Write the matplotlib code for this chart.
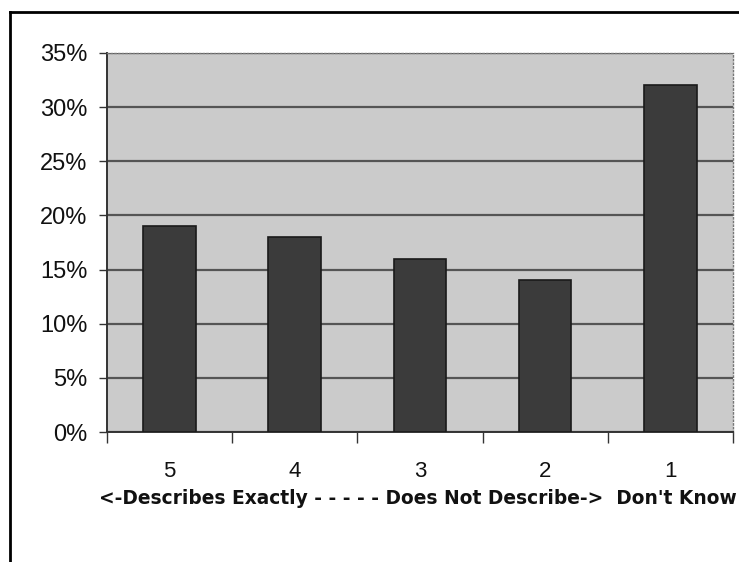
import matplotlib
matplotlib.use("Agg")
import matplotlib.pyplot as plt
from matplotlib.lines import Line2D
import numpy as np

categories = ["5", "4", "3", "2", "1"]
values = [19, 18, 16, 14, 32]
yticks = [0, 5, 10, 15, 20, 25, 30, 35]
ytick_labels = ["0%", "5%", "10%", "15%", "20%", "25%", "30%", "35%"]
caption = "<-Describes Exactly - - - - - Does Not Describe->  Don't Know"

fig = plt.figure(figsize=(7.39, 5.62), dpi=100)
fig.patch.set_facecolor("white")
ax = fig.add_axes([0.1448, 0.2313, 0.847, 0.6744])
ax.set_facecolor("#cbcbcb")

x = np.arange(len(categories))
ax.bar(x, values, width=0.42, color="#3b3b3b", edgecolor="#1a1a1a", linewidth=1.2, zorder=3)
ax.set_xlim(-0.5, len(categories) - 0.5)
ax.set_ylim(0, 35)
ax.set_yticks(yticks)
ax.set_yticklabels(ytick_labels, family="Liberation Sans", fontsize=17, color="#111111")
ax.yaxis.grid(True, color="#555555", linewidth=1.6, zorder=1)
ax.set_axisbelow(True)

ax.set_xticks(np.arange(-0.5, len(categories), 1.0))
ax.set_xticklabels([])
ax.set_xticks(x, minor=True)
ax.set_xticklabels(categories, minor=True, family="Liberation Sans", fontsize=16, color="#111111")
ax.tick_params(axis="x", which="major", length=8, width=1, color="#333333", direction="out")
ax.tick_params(axis="x", which="minor", length=0, pad=21)
ax.tick_params(axis="y", length=6, width=1, color="#333333", pad=8)

for s in ["left", "bottom"]:
    ax.spines[s].set_color("#333333")
    ax.spines[s].set_linewidth(1.4)
for s in ["top", "right"]:
    ax.spines[s].set_color("#777777")
    ax.spines[s].set_linewidth(1.0)
    ax.spines[s].set_linestyle(":")

fig.text(418 / 739, 1 - 498 / 562, caption, ha="center", va="center",
         family="DejaVu Sans", fontsize=13.4, fontweight="bold", color="#111111")

# outer frame
fig.add_artist(Line2D([10 / 739, 10 / 739], [0, 1 - 12 / 562], transform=fig.transFigure,
                      color="black", linewidth=2))
fig.add_artist(Line2D([10 / 739, 1], [1 - 12 / 562, 1 - 12 / 562], transform=fig.transFigure,
                      color="black", linewidth=2))

fig.savefig("out.png", dpi=100)
